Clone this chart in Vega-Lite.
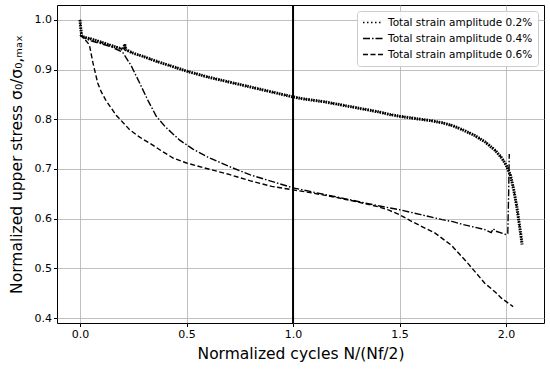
{
 "$schema": "https://vega.github.io/schema/vega-lite/v6.json",
 "width": 487, "height": 318,
 "autosize": "none",
 "padding": {"left": 57, "top": 5, "right": 6, "bottom": 52},
 "background": "white",
 "config": {
  "font": "DejaVu Sans",
  "view": {"stroke": "#000", "strokeWidth": 1},
  "axis": {"grid": true, "gridColor": "#b0b0b0", "gridWidth": 0.8, "domain": false, "tickColor": "#000", "tickSize": 3.5, "labelFontSize": 11, "labelColor": "#000", "titleFontSize": 15.5, "titleFontWeight": "normal", "titleColor": "#000"},
  "legend": {"orient": "none", "legendX": 300, "legendY": 6, "fillColor": "rgba(255,255,255,0.85)", "strokeColor": "#cccccc", "cornerRadius": 3, "padding": 5, "symbolType": "stroke", "symbolSize": 400, "symbolStrokeColor": "#000", "symbolStrokeWidth": 1.5, "labelFontSize": 10.5, "labelColor": "#000", "rowPadding": 3, "clipHeight": 13, "title": null}
 },
 "datasets": {
  "curves": [
   {"s": "Total strain amplitude 0.2%", "x": 0, "y": 1.0},
   {"s": "Total strain amplitude 0.2%", "x": 0.003, "y": 0.985},
   {"s": "Total strain amplitude 0.2%", "x": 0.008, "y": 0.968},
   {"s": "Total strain amplitude 0.2%", "x": 0.02, "y": 0.965},
   {"s": "Total strain amplitude 0.2%", "x": 0.05, "y": 0.962},
   {"s": "Total strain amplitude 0.2%", "x": 0.1, "y": 0.955},
   {"s": "Total strain amplitude 0.2%", "x": 0.15, "y": 0.948},
   {"s": "Total strain amplitude 0.2%", "x": 0.2, "y": 0.941},
   {"s": "Total strain amplitude 0.2%", "x": 0.205, "y": 0.942},
   {"s": "Total strain amplitude 0.2%", "x": 0.21, "y": 0.951},
   {"s": "Total strain amplitude 0.2%", "x": 0.215, "y": 0.94},
   {"s": "Total strain amplitude 0.2%", "x": 0.25, "y": 0.933},
   {"s": "Total strain amplitude 0.2%", "x": 0.3, "y": 0.926},
   {"s": "Total strain amplitude 0.2%", "x": 0.35, "y": 0.918},
   {"s": "Total strain amplitude 0.2%", "x": 0.4, "y": 0.911},
   {"s": "Total strain amplitude 0.2%", "x": 0.45, "y": 0.904},
   {"s": "Total strain amplitude 0.2%", "x": 0.5, "y": 0.897},
   {"s": "Total strain amplitude 0.2%", "x": 0.55, "y": 0.891},
   {"s": "Total strain amplitude 0.2%", "x": 0.6, "y": 0.885},
   {"s": "Total strain amplitude 0.2%", "x": 0.65, "y": 0.88},
   {"s": "Total strain amplitude 0.2%", "x": 0.7, "y": 0.875},
   {"s": "Total strain amplitude 0.2%", "x": 0.75, "y": 0.87},
   {"s": "Total strain amplitude 0.2%", "x": 0.8, "y": 0.865},
   {"s": "Total strain amplitude 0.2%", "x": 0.85, "y": 0.86},
   {"s": "Total strain amplitude 0.2%", "x": 0.9, "y": 0.855},
   {"s": "Total strain amplitude 0.2%", "x": 0.95, "y": 0.85},
   {"s": "Total strain amplitude 0.2%", "x": 1.0, "y": 0.845},
   {"s": "Total strain amplitude 0.2%", "x": 1.05, "y": 0.841},
   {"s": "Total strain amplitude 0.2%", "x": 1.1, "y": 0.838},
   {"s": "Total strain amplitude 0.2%", "x": 1.15, "y": 0.835},
   {"s": "Total strain amplitude 0.2%", "x": 1.2, "y": 0.831},
   {"s": "Total strain amplitude 0.2%", "x": 1.25, "y": 0.827},
   {"s": "Total strain amplitude 0.2%", "x": 1.3, "y": 0.823},
   {"s": "Total strain amplitude 0.2%", "x": 1.35, "y": 0.819},
   {"s": "Total strain amplitude 0.2%", "x": 1.4, "y": 0.815},
   {"s": "Total strain amplitude 0.2%", "x": 1.45, "y": 0.81},
   {"s": "Total strain amplitude 0.2%", "x": 1.5, "y": 0.806},
   {"s": "Total strain amplitude 0.2%", "x": 1.55, "y": 0.803},
   {"s": "Total strain amplitude 0.2%", "x": 1.6, "y": 0.8},
   {"s": "Total strain amplitude 0.2%", "x": 1.65, "y": 0.797},
   {"s": "Total strain amplitude 0.2%", "x": 1.7, "y": 0.793},
   {"s": "Total strain amplitude 0.2%", "x": 1.75, "y": 0.787},
   {"s": "Total strain amplitude 0.2%", "x": 1.8, "y": 0.778},
   {"s": "Total strain amplitude 0.2%", "x": 1.85, "y": 0.768},
   {"s": "Total strain amplitude 0.2%", "x": 1.9, "y": 0.755},
   {"s": "Total strain amplitude 0.2%", "x": 1.95, "y": 0.737},
   {"s": "Total strain amplitude 0.2%", "x": 1.98, "y": 0.722},
   {"s": "Total strain amplitude 0.2%", "x": 2.0, "y": 0.708},
   {"s": "Total strain amplitude 0.2%", "x": 2.02, "y": 0.688},
   {"s": "Total strain amplitude 0.2%", "x": 2.035, "y": 0.66},
   {"s": "Total strain amplitude 0.2%", "x": 2.05, "y": 0.625},
   {"s": "Total strain amplitude 0.2%", "x": 2.06, "y": 0.595},
   {"s": "Total strain amplitude 0.2%", "x": 2.07, "y": 0.565},
   {"s": "Total strain amplitude 0.2%", "x": 2.075, "y": 0.548},
   {"s": "Total strain amplitude 0.4%", "x": 0, "y": 0.97},
   {"s": "Total strain amplitude 0.4%", "x": 0.02, "y": 0.964},
   {"s": "Total strain amplitude 0.4%", "x": 0.05, "y": 0.958},
   {"s": "Total strain amplitude 0.4%", "x": 0.1, "y": 0.952},
   {"s": "Total strain amplitude 0.4%", "x": 0.15, "y": 0.945},
   {"s": "Total strain amplitude 0.4%", "x": 0.2, "y": 0.935},
   {"s": "Total strain amplitude 0.4%", "x": 0.24, "y": 0.908},
   {"s": "Total strain amplitude 0.4%", "x": 0.28, "y": 0.873},
   {"s": "Total strain amplitude 0.4%", "x": 0.32, "y": 0.837},
   {"s": "Total strain amplitude 0.4%", "x": 0.358, "y": 0.806},
   {"s": "Total strain amplitude 0.4%", "x": 0.4, "y": 0.785},
   {"s": "Total strain amplitude 0.4%", "x": 0.468, "y": 0.758},
   {"s": "Total strain amplitude 0.4%", "x": 0.53, "y": 0.74},
   {"s": "Total strain amplitude 0.4%", "x": 0.6, "y": 0.724},
   {"s": "Total strain amplitude 0.4%", "x": 0.7, "y": 0.705},
   {"s": "Total strain amplitude 0.4%", "x": 0.8, "y": 0.688},
   {"s": "Total strain amplitude 0.4%", "x": 0.9, "y": 0.675},
   {"s": "Total strain amplitude 0.4%", "x": 1.0, "y": 0.662},
   {"s": "Total strain amplitude 0.4%", "x": 1.1, "y": 0.653},
   {"s": "Total strain amplitude 0.4%", "x": 1.2, "y": 0.644},
   {"s": "Total strain amplitude 0.4%", "x": 1.3, "y": 0.635},
   {"s": "Total strain amplitude 0.4%", "x": 1.4, "y": 0.626},
   {"s": "Total strain amplitude 0.4%", "x": 1.5, "y": 0.618},
   {"s": "Total strain amplitude 0.4%", "x": 1.6, "y": 0.608},
   {"s": "Total strain amplitude 0.4%", "x": 1.7, "y": 0.598},
   {"s": "Total strain amplitude 0.4%", "x": 1.75, "y": 0.594},
   {"s": "Total strain amplitude 0.4%", "x": 1.8, "y": 0.588},
   {"s": "Total strain amplitude 0.4%", "x": 1.85, "y": 0.583},
   {"s": "Total strain amplitude 0.4%", "x": 1.9, "y": 0.578},
   {"s": "Total strain amplitude 0.4%", "x": 1.93, "y": 0.572},
   {"s": "Total strain amplitude 0.4%", "x": 1.94, "y": 0.58},
   {"s": "Total strain amplitude 0.4%", "x": 1.95, "y": 0.575},
   {"s": "Total strain amplitude 0.4%", "x": 2.0, "y": 0.568},
   {"s": "Total strain amplitude 0.4%", "x": 2.008, "y": 0.57},
   {"s": "Total strain amplitude 0.4%", "x": 2.012, "y": 0.65},
   {"s": "Total strain amplitude 0.4%", "x": 2.015, "y": 0.73},
   {"s": "Total strain amplitude 0.6%", "x": 0, "y": 0.97},
   {"s": "Total strain amplitude 0.6%", "x": 0.02, "y": 0.962},
   {"s": "Total strain amplitude 0.6%", "x": 0.044, "y": 0.95},
   {"s": "Total strain amplitude 0.6%", "x": 0.06, "y": 0.915},
   {"s": "Total strain amplitude 0.6%", "x": 0.083, "y": 0.873},
   {"s": "Total strain amplitude 0.6%", "x": 0.1, "y": 0.855},
   {"s": "Total strain amplitude 0.6%", "x": 0.123, "y": 0.837},
   {"s": "Total strain amplitude 0.6%", "x": 0.17, "y": 0.808},
   {"s": "Total strain amplitude 0.6%", "x": 0.233, "y": 0.779},
   {"s": "Total strain amplitude 0.6%", "x": 0.28, "y": 0.764},
   {"s": "Total strain amplitude 0.6%", "x": 0.327, "y": 0.752},
   {"s": "Total strain amplitude 0.6%", "x": 0.38, "y": 0.737},
   {"s": "Total strain amplitude 0.6%", "x": 0.437, "y": 0.722},
   {"s": "Total strain amplitude 0.6%", "x": 0.5, "y": 0.712},
   {"s": "Total strain amplitude 0.6%", "x": 0.594, "y": 0.701},
   {"s": "Total strain amplitude 0.6%", "x": 0.7, "y": 0.689},
   {"s": "Total strain amplitude 0.6%", "x": 0.8, "y": 0.676},
   {"s": "Total strain amplitude 0.6%", "x": 0.9, "y": 0.665},
   {"s": "Total strain amplitude 0.6%", "x": 1.0, "y": 0.658},
   {"s": "Total strain amplitude 0.6%", "x": 1.1, "y": 0.651},
   {"s": "Total strain amplitude 0.6%", "x": 1.2, "y": 0.643},
   {"s": "Total strain amplitude 0.6%", "x": 1.3, "y": 0.634},
   {"s": "Total strain amplitude 0.6%", "x": 1.4, "y": 0.624},
   {"s": "Total strain amplitude 0.6%", "x": 1.45, "y": 0.617},
   {"s": "Total strain amplitude 0.6%", "x": 1.5, "y": 0.608},
   {"s": "Total strain amplitude 0.6%", "x": 1.55, "y": 0.596},
   {"s": "Total strain amplitude 0.6%", "x": 1.6, "y": 0.585},
   {"s": "Total strain amplitude 0.6%", "x": 1.663, "y": 0.572},
   {"s": "Total strain amplitude 0.6%", "x": 1.742, "y": 0.547},
   {"s": "Total strain amplitude 0.6%", "x": 1.821, "y": 0.51},
   {"s": "Total strain amplitude 0.6%", "x": 1.9, "y": 0.47},
   {"s": "Total strain amplitude 0.6%", "x": 1.95, "y": 0.452},
   {"s": "Total strain amplitude 0.6%", "x": 1.978, "y": 0.44},
   {"s": "Total strain amplitude 0.6%", "x": 2.033, "y": 0.423}
  ],
  "vline": [{"x": 1.0}]
 },
 "layer": [
  {
   "data": {"name": "curves"},
   "transform": [{"filter": "datum.s === 'Total strain amplitude 0.2%'"}],
   "mark": {"type": "line", "color": "#000", "strokeWidth": 3, "strokeDash": [1.5, 1]},
   "encoding": {
    "x": {"field": "x", "type": "quantitative", "scale": {"domain": [-0.108, 2.178], "nice": false, "zero": false}, "axis": {"values": [0, 0.5, 1, 1.5, 2], "format": ".1f", "title": "Normalized cycles N/(Nf/2)", "titlePadding": 7}},
    "y": {"field": "y", "type": "quantitative", "scale": {"domain": [0.39, 1.03], "nice": false, "zero": false}, "axis": {"values": [0.4, 0.5, 0.6, 0.7, 0.8, 0.9, 1.0], "format": ".1f", "title": "Normalized upper stress σ₀/σ₀,ₘₐₓ", "titlePadding": 10}}
   }
  },
  {
   "data": {"name": "curves"},
   "mark": {"type": "line", "color": "#000", "strokeWidth": 1.4},
   "encoding": {
    "x": {"field": "x", "type": "quantitative"},
    "y": {"field": "y", "type": "quantitative"},
    "strokeDash": {"field": "s", "type": "nominal", "scale": {"range": [[1.5, 2.5], [7, 2, 1.5, 2], [5, 2.5]]}}
   }
  },
  {
   "data": {"name": "vline"},
   "mark": {"type": "rule", "color": "#000", "strokeWidth": 2},
   "encoding": {"x": {"field": "x", "type": "quantitative"}}
  }
 ]
}
